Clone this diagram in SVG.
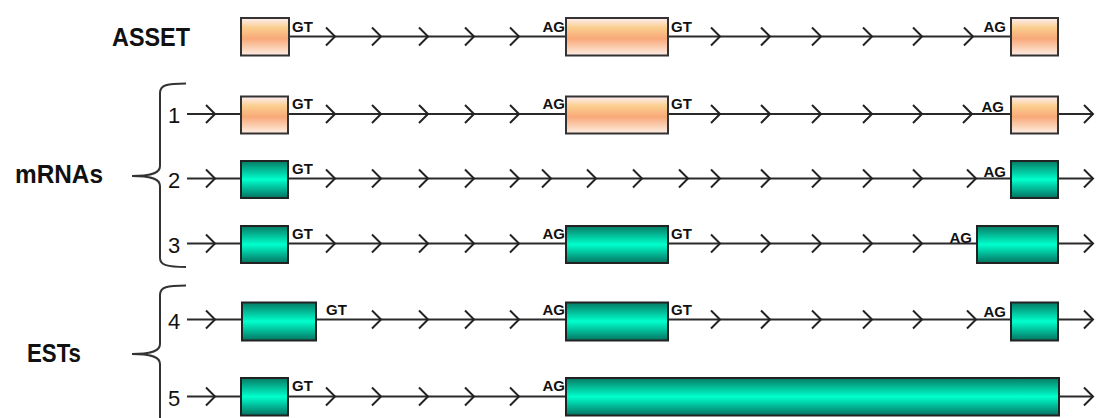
<svg xmlns="http://www.w3.org/2000/svg" width="1097" height="418" viewBox="0 0 1097 418">
<defs>
<linearGradient id="gOr" x1="0" y1="0" x2="0" y2="1">
<stop offset="0" stop-color="#fdeef5"/>
<stop offset="0.25" stop-color="#fbcf8f"/>
<stop offset="0.55" stop-color="#f8a878"/>
<stop offset="0.85" stop-color="#fcd8c0"/>
<stop offset="1" stop-color="#fdeee6"/>
</linearGradient>
<linearGradient id="gGr" x1="0" y1="0" x2="0" y2="1">
<stop offset="0" stop-color="#067a64"/>
<stop offset="0.5" stop-color="#00ffcc"/>
<stop offset="1" stop-color="#047260"/>
</linearGradient>
<marker id="chev" viewBox="0 0 12 22" refX="10" refY="11" markerWidth="12" markerHeight="22" markerUnits="userSpaceOnUse" orient="auto" overflow="visible">
<path d="M1,2 L10,11 L1,20" fill="none" stroke="#222" stroke-width="2"/>
</marker>
</defs>
<style>
.ln{fill:none;stroke:#2a2a2a;stroke-width:2;marker-mid:url(#chev)}
.le{marker-end:url(#chev)}
.or{fill:url(#gOr);stroke:#333;stroke-width:2}
.gr{fill:url(#gGr);stroke:#222;stroke-width:2}
.lab{font-family:"Liberation Sans",Arial,sans-serif;font-weight:bold;font-size:25px;fill:#111}
.num{font-family:"Liberation Sans",Arial,sans-serif;font-size:22px;fill:#111}
.ss{font-family:"Liberation Sans",Arial,sans-serif;font-weight:bold;font-size:15px;fill:#111}
.br{fill:none;stroke:#333;stroke-width:2}
</style>

<g id="connectors">
<polyline class="ln" points="289,36.5 335,36.5 381,36.5 428,36.5 474,36.5 519,36.5 620,36.5 720,36.5 770,36.5 821,36.5 872,36.5 922,36.5 973,36.5 1011,36.5"/>
<polyline class="ln le" points="187,114 215,114 265,114 335,114 381,114 428,114 474,114 519,114 620,114 720,114 770,114 821,114 872,114 922,114 972,114 1030,114 1093,114"/>
<polyline class="ln le" points="187,178.5 215,178.5 265,178.5 335,178.5 381,178.5 428,178.5 474,178.5 519,178.5 551,178.5 596,178.5 642,178.5 688,178.5 720,178.5 770,178.5 821,178.5 872,178.5 922,178.5 976,178.5 1030,178.5 1093,178.5"/>
<polyline class="ln le" points="187,243.5 215,243.5 265,243.5 335,243.5 381,243.5 428,243.5 474,243.5 519,243.5 620,243.5 720,243.5 770,243.5 821,243.5 872,243.5 922,243.5 1020,243.5 1093,243.5"/>
<polyline class="ln le" points="187,319.5 215,319.5 280,319.5 381,319.5 428,319.5 474,319.5 519,319.5 620,319.5 720,319.5 770,319.5 821,319.5 872,319.5 922,319.5 976,319.5 1030,319.5 1093,319.5"/>
<polyline class="ln le" points="187,396.5 215,396.5 265,396.5 335,396.5 381,396.5 428,396.5 474,396.5 519,396.5 800,396.5 1093,396.5"/>
</g>

<g id="labels">
<text class="lab" x="112" y="46" textLength="78" lengthAdjust="spacingAndGlyphs">ASSET</text>
<text class="lab" x="15" y="183" textLength="88" lengthAdjust="spacingAndGlyphs">mRNAs</text>
<text class="lab" x="27" y="362" textLength="54" lengthAdjust="spacingAndGlyphs">ESTs</text>
</g>

<g id="braces">
<path class="br" d="M186,83.5 C167,83.5 160,85 160,93 L160,166 C160,172 154,176 132,176 C154,176 160,180 160,186 L160,258 C160,265 167,267 186,267"/>
<path class="br" d="M186,285.5 C167,285.5 160,287 160,295 L160,344 C160,350 154,354 132,354 C154,354 160,358 160,364 L160,420"/>
</g>

<g id="numbers">
<text class="num" x="168" y="123">1</text>
<text class="num" x="168" y="188">2</text>
<text class="num" x="168" y="253">3</text>
<text class="num" x="168" y="329">4</text>
<text class="num" x="168" y="406">5</text>
</g>

<g id="asset">
<rect class="or" x="241" y="18" width="48" height="37.5"/>
<rect class="or" x="566" y="18" width="102" height="37.5"/>
<rect class="or" x="1011" y="18" width="47" height="37.5"/>
<text class="ss" x="292" y="32">GT</text>
<text class="ss" x="565" y="32" text-anchor="end">AG</text>
<text class="ss" x="671" y="32">GT</text>
<text class="ss" x="1006" y="32" text-anchor="end">AG</text>
</g>

<g id="mrna1">
<rect class="or" x="241" y="96.5" width="47" height="37"/>
<rect class="or" x="566" y="96.5" width="102" height="37"/>
<rect class="or" x="1011" y="96.5" width="47" height="37"/>
<text class="ss" x="292" y="109">GT</text>
<text class="ss" x="565" y="109" text-anchor="end">AG</text>
<text class="ss" x="671" y="109">GT</text>
<text class="ss" x="1004" y="112" text-anchor="end">AG</text>
</g>

<g id="mrna2">
<rect class="gr" x="241" y="161" width="47" height="37"/>
<rect class="gr" x="1011" y="161" width="47" height="37"/>
<text class="ss" x="292" y="174">GT</text>
<text class="ss" x="1006" y="177" text-anchor="end">AG</text>
</g>

<g id="mrna3">
<rect class="gr" x="241" y="226" width="47" height="37"/>
<rect class="gr" x="566" y="226" width="102" height="37"/>
<rect class="gr" x="977" y="226" width="81" height="37"/>
<text class="ss" x="292" y="239">GT</text>
<text class="ss" x="565" y="239" text-anchor="end">AG</text>
<text class="ss" x="671" y="239">GT</text>
<text class="ss" x="972" y="243" text-anchor="end">AG</text>
</g>

<g id="est4">
<rect class="gr" x="242" y="302.5" width="74" height="38"/>
<rect class="gr" x="566" y="302.5" width="102" height="38"/>
<rect class="gr" x="1011" y="302.5" width="47" height="38"/>
<text class="ss" x="326" y="315">GT</text>
<text class="ss" x="565" y="315" text-anchor="end">AG</text>
<text class="ss" x="671" y="315">GT</text>
<text class="ss" x="1006" y="317" text-anchor="end">AG</text>
</g>

<g id="est5">
<rect class="gr" x="241" y="378" width="47" height="37.5"/>
<rect class="gr" x="566" y="378" width="493" height="37.5"/>
<text class="ss" x="292" y="391">GT</text>
<text class="ss" x="565" y="391" text-anchor="end">AG</text>
</g>
</svg>
